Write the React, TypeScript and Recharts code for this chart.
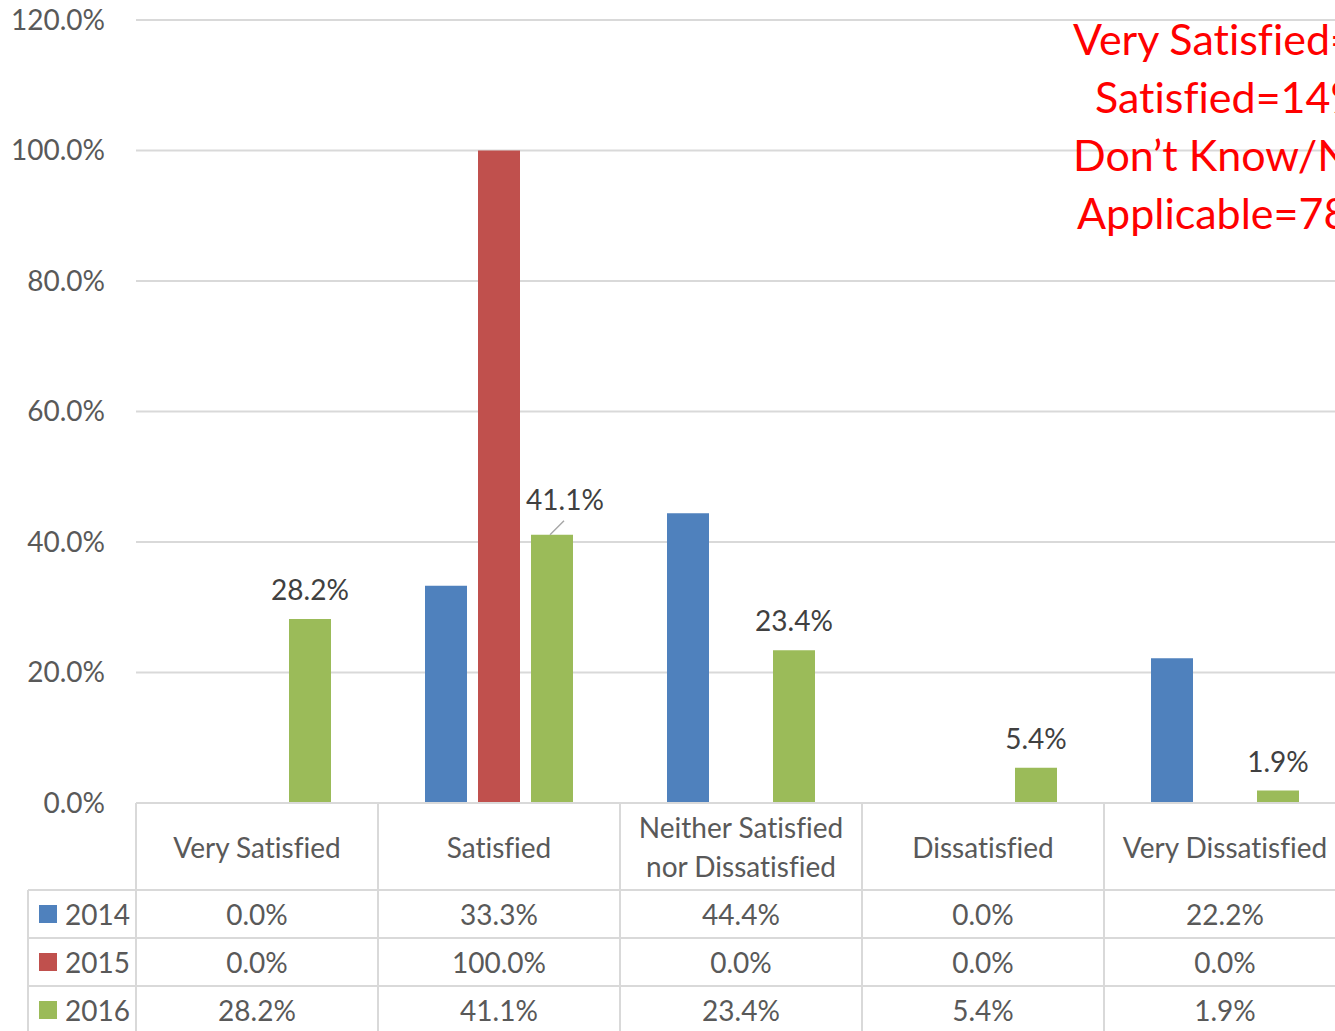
import React from "react";
import { BarChart, Bar, XAxis, YAxis, CartesianGrid, LabelList } from "recharts";

const CATEGORIES = [
  "Very Satisfied",
  "Satisfied",
  "Neither Satisfied nor Dissatisfied",
  "Dissatisfied",
  "Very Dissatisfied",
];
const HEADER_LINES = [
  ["Very Satisfied"],
  ["Satisfied"],
  ["Neither Satisfied", "nor Dissatisfied"],
  ["Dissatisfied"],
  ["Very Dissatisfied"],
];
const Y2014 = [0, 33.3, 44.4, 0, 22.2];
const Y2015 = [0, 100, 0, 0, 0];
const Y2016 = [28.2, 41.1, 23.4, 5.4, 1.9];
const Y_TICKS = [0, 20, 40, 60, 80, 100, 120];

const SERIES = [
  { key: "y2014", name: "2014", color: "#4f81bd", values: Y2014 },
  { key: "y2015", name: "2015", color: "#c0504d", values: Y2015 },
  { key: "y2016", name: "2016", color: "#9bbb59", values: Y2016 },
];

// note box in the top right, cut off by the chart edge as in the original
const NOTE_LINES = [
  { text: "Very Satisfied=", x: 1073 },
  { text: "Satisfied=14%", x: 1095 },
  { text: "Don\u2019t Know/Not", x: 1073 },
  { text: "Applicable=78%", x: 1077 },
];

const data = CATEGORIES.map((c, i) => ({
  cat: c,
  y2014: Y2014[i],
  y2015: Y2015[i],
  y2016: Y2016[i],
}));

const FONT = "Lato, 'Open Sans', sans-serif";
const GRID = "#d9d9d9";
const TXT = "#595959";
const FS = 28;

const W = 1346;
const H = 1031;
const PLOT_LEFT = 136;
const TABLE_H = 228;
const COL_W = (W - PLOT_LEFT) / CATEGORIES.length;
const HEADER_H = 87;
const ROW_H = 48;
const LEGEND_LEFT = 28;

const fmt = (v: number) => `${v.toFixed(1)}%`;

function TableTick(props: any) {
  const { x, y, index } = props;
  const left = x - COL_W / 2;
  const right = x + COL_W / 2;
  const lines = HEADER_LINES[index] || [];
  const headMid = y + HEADER_H / 2;
  return (
    <g>
      <line x1={left} y1={y} x2={left} y2={y + TABLE_H} stroke={GRID} strokeWidth={2} />
      <line x1={right} y1={y} x2={right} y2={y + TABLE_H} stroke={GRID} strokeWidth={2} />
      {lines.map((t, i) => (
        <text
          key={t}
          x={x}
          y={headMid + (i - (lines.length - 1) / 2) * 39}
          textAnchor="middle"
          dominantBaseline="central"
          fill={TXT}
          fontSize={FS}
        >
          {t}
        </text>
      ))}
      {SERIES.map((s, r) => {
        const top = y + HEADER_H + r * ROW_H;
        return (
          <g key={s.key}>
            <line x1={left} y1={top} x2={right} y2={top} stroke={GRID} strokeWidth={2} />
            <text x={x} y={top + ROW_H / 2} textAnchor="middle" dominantBaseline="central" fill={TXT} fontSize={FS}>
              {fmt(s.values[index])}
            </text>
          </g>
        );
      })}
      {index === 0 &&
        SERIES.map((s, r) => {
          const top = y + HEADER_H + r * ROW_H;
          return (
            <g key={"lg" + s.key}>
              <line x1={LEGEND_LEFT} y1={top} x2={left} y2={top} stroke={GRID} strokeWidth={2} />
              <line x1={LEGEND_LEFT} y1={top} x2={LEGEND_LEFT} y2={top + ROW_H} stroke={GRID} strokeWidth={2} />
              <rect x={39} y={top + ROW_H / 2 - 9} width={18} height={18} fill={s.color} />
              <text x={65} y={top + ROW_H / 2} dominantBaseline="central" fill={TXT} fontSize={FS}>
                {s.name}
              </text>
            </g>
          );
        })}
    </g>
  );
}

function Label2016(props: any) {
  const { x, y, width, value, index } = props;
  const cx = x + width / 2;
  if (index === 1) {
    return (
      <g>
        <line x1={cx - 2} y1={y} x2={cx + 12} y2={y - 14} stroke="#a6a6a6" strokeWidth={1.5} />
        <text x={cx + 13} y={y - 36} textAnchor="middle" dominantBaseline="central" fill="#404040" fontSize={FS}>
          {fmt(value)}
        </text>
      </g>
    );
  }
  return (
    <text x={cx} y={y - 30} textAnchor="middle" dominantBaseline="central" fill="#404040" fontSize={FS}>
      {fmt(value)}
    </text>
  );
}

export default function App() {
  return (
    <div
      style={{
        position: "absolute",
        left: 0,
        top: 0,
        width: 1335,
        height: H,
        overflow: "hidden",
        background: "#fff",
        fontFamily: FONT,
        fontVariantLigatures: "none",
      }}
    >
      <BarChart
        width={W}
        height={H}
        data={data}
        margin={{ top: 20, right: 0, bottom: 0, left: 0 }}
        barSize={42}
        barGap={11}
        style={{ fontFamily: FONT, fontVariantLigatures: "none" }}
      >
        <CartesianGrid horizontal vertical={false} stroke={GRID} strokeWidth={2} />
        <YAxis
          width={PLOT_LEFT}
          domain={[0, 120]}
          ticks={Y_TICKS}
          tickFormatter={fmt}
          axisLine={false}
          tickLine={false}
          tickSize={0}
          tickMargin={31}
          tick={{ fill: TXT, fontSize: FS }}
        />
        <XAxis
          dataKey="cat"
          height={TABLE_H}
          axisLine={{ stroke: GRID, strokeWidth: 2 }}
          tickLine={false}
          tickSize={0}
          tickMargin={0}
          interval={0}
          tick={<TableTick />}
        />
        {SERIES.map((s) => (
          <Bar key={s.key} dataKey={s.key} name={s.name} fill={s.color} isAnimationActive={false}>
            {s.key === "y2016" && <LabelList dataKey="y2016" content={<Label2016 />} />}
          </Bar>
        ))}
      </BarChart>
      {NOTE_LINES.map((l, i) => (
        <div
          key={i}
          style={{
            position: "absolute",
            left: l.x,
            top: 39 + i * 58,
            transform: "translateY(-50%)",
            color: "#ff0000",
            fontSize: 43,
            lineHeight: "52px",
            whiteSpace: "nowrap",
          }}
        >
          {l.text}
        </div>
      ))}
    </div>
  );
}
